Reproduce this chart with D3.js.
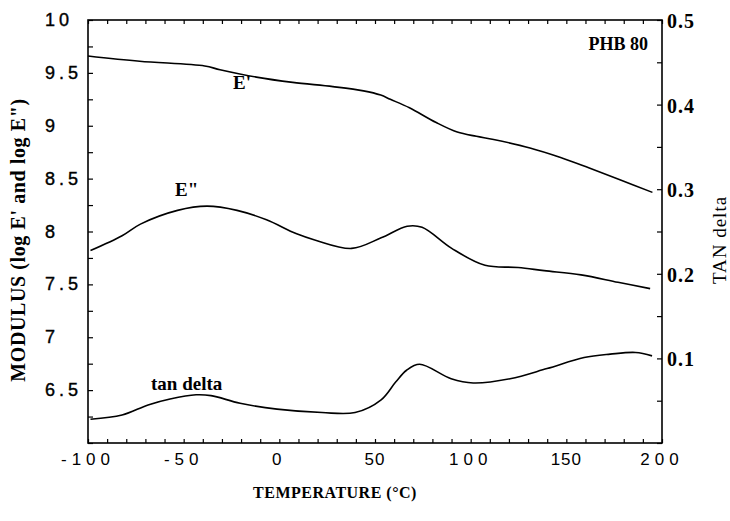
<!DOCTYPE html>
<html><head><meta charset="utf-8">
<script src="https://cdn.jsdelivr.net/npm/d3@7"></script>
<style>
body{margin:0;background:#fff;}
svg{display:block;}
</style></head>
<body>
<svg id="chart" width="730" height="521"></svg>
<script>
// ---- data ----
const xTickLabels = [-100,-50,0,50,100,150,200];
const leftTickLabels = [10,9.5,9,8.5,8,7.5,7,6.5];
const rightTickLabels = [0.5,0.4,0.3,0.2,0.1];

const ePrimeT = [-100,-73,-39,-31,-12,7,28,44,53,58,68,82,93,103,112,131,147,162,178,195];
const ePrime  = [9.66,9.61,9.565,9.53,9.46,9.41,9.37,9.33,9.29,9.25,9.17,9.03,8.94,8.90,8.87,8.79,8.70,8.60,8.49,8.37];

const eDoubleT = [-98.7,-82.2,-72.6,-53.2,-37.8,-22.1,-6.7,8.7,18.5,37.8,53.2,66.8,74.6,90.1,107.5,124.8,138.4,157.7,177,193.8];
const eDouble  = [7.82,7.96,8.07,8.20,8.24,8.20,8.11,7.98,7.92,7.84,7.94,8.05,8.04,7.84,7.68,7.66,7.63,7.59,7.52,7.46];

const tanT = [-98.7,-82.2,-68.6,-57.1,-43.5,-35.7,-20.5,-1.2,22.3,39.6,53.2,60.8,66.5,73.3,89.8,101.3,120.6,139.9,159.3,172.9,186.2,194.8];
const tanD = [0.028,0.033,0.045,0.052,0.057,0.056,0.047,0.040,0.036,0.036,0.051,0.072,0.086,0.093,0.076,0.071,0.076,0.088,0.101,0.105,0.107,0.103];

// ---- layout ----
const L = 88, R = 662, T = 20, B = 443;
const svg = d3.select("#chart");
const x = d3.scaleLinear().domain([-100,200]).range([L,R]);
const yL = d3.scaleLinear().domain([6,10]).range([B,T]);
const yR = d3.scaleLinear().domain([0,0.5]).range([B,T]);

const serif = "'Liberation Serif','Times New Roman',serif";
const sans = "'Liberation Sans',Arial,sans-serif";

// frame
svg.append("rect").attr("x",L).attr("y",T).attr("width",R-L).attr("height",B-T)
  .attr("fill","none").attr("stroke","#000").attr("stroke-width",1.6);

// ticks (inward)
const tickStyle = g => { g.select(".domain").remove(); g.selectAll("line").attr("stroke","#000").attr("stroke-width",1.2); g.selectAll("text").remove(); };
svg.append("g").attr("transform",`translate(0,${B})`)
  .call(d3.axisBottom(x).tickValues(d3.range(-100,201,10)).tickSize(-4)).call(tickStyle);
svg.append("g").attr("transform",`translate(0,${T})`)
  .call(d3.axisTop(x).tickValues(d3.range(-100,201,10)).tickSize(-4)).call(tickStyle);
svg.append("g").attr("transform",`translate(${L},0)`)
  .call(d3.axisLeft(yL).tickValues(d3.range(6,10.01,0.25)).tickSize(-5)).call(tickStyle);
svg.append("g").attr("transform",`translate(${R},0)`)
  .call(d3.axisRight(yR).tickValues(d3.range(0,0.501,0.05)).tickSize(-5)).call(tickStyle);

// tick labels
svg.append("g").selectAll("text").data(xTickLabels).join("text")
  .attr("x",d=>x(d)).attr("y",B+22).attr("text-anchor","middle")
  .attr("font-family",sans).attr("font-size",17)
  .attr("letter-spacing",d=>(d===50||d===150)?"1px":"5px")
  .text(d=>d);
svg.append("g").selectAll("text").data(leftTickLabels).join("text")
  .attr("x",45).attr("y",d=>yL(d)+6).attr("text-anchor","start")
  .attr("font-family",sans).attr("font-size",18).attr("letter-spacing","4px")
  .attr("stroke","#000").attr("stroke-width",0.4)
  .text(d=>d);
svg.append("g").selectAll("text").data(rightTickLabels).join("text")
  .attr("x",667).attr("y",d=>yR(d)+8).attr("text-anchor","start")
  .attr("font-family",serif).attr("font-weight","bold").attr("font-size",20).attr("letter-spacing","1px")
  .text(d=>d.toFixed(1));

// curves
const lineL = d3.line().x(d=>x(d[0])).y(d=>yL(d[1])).curve(d3.curveCatmullRom);
const lineR = d3.line().x(d=>x(d[0])).y(d=>yR(d[1])).curve(d3.curveCatmullRom);
const curve = (pts, gen) => svg.append("path").datum(pts).attr("d",gen)
  .attr("fill","none").attr("stroke","#000").attr("stroke-width",1.6);
curve(d3.zip(ePrimeT, ePrime), lineL);
curve(d3.zip(eDoubleT, eDouble), lineL);
curve(d3.zip(tanT, tanD), lineR);

// annotations
const ann = (tx,ty,s,size,anchor) => svg.append("text").attr("x",tx).attr("y",ty)
  .attr("text-anchor",anchor||"start")
  .attr("font-family",serif).attr("font-weight","bold").attr("font-size",size).text(s);
ann(233,89,"E'",19);
ann(175,196,"E\"",19);
ann(151,390,"tan delta",19);
ann(648,50,"PHB 80",18,"end");

// axis titles
svg.append("text").attr("transform","translate(25,240) rotate(-90)").attr("text-anchor","middle")
  .attr("font-family",serif).attr("font-weight","bold").attr("font-size",20).attr("letter-spacing","0.6px")
  .text("MODULUS (log E' and log E\")");
svg.append("text").attr("transform","translate(726,240) rotate(-90)").attr("text-anchor","middle")
  .attr("font-family",serif).attr("font-size",19).attr("letter-spacing","1px")
  .text("TAN delta");
svg.append("text").attr("x",335).attr("y",498).attr("text-anchor","middle")
  .attr("font-family",serif).attr("font-weight","bold").attr("font-size",16).attr("letter-spacing","0.5px")
  .text("TEMPERATURE (°C)");
</script>
</body></html>
